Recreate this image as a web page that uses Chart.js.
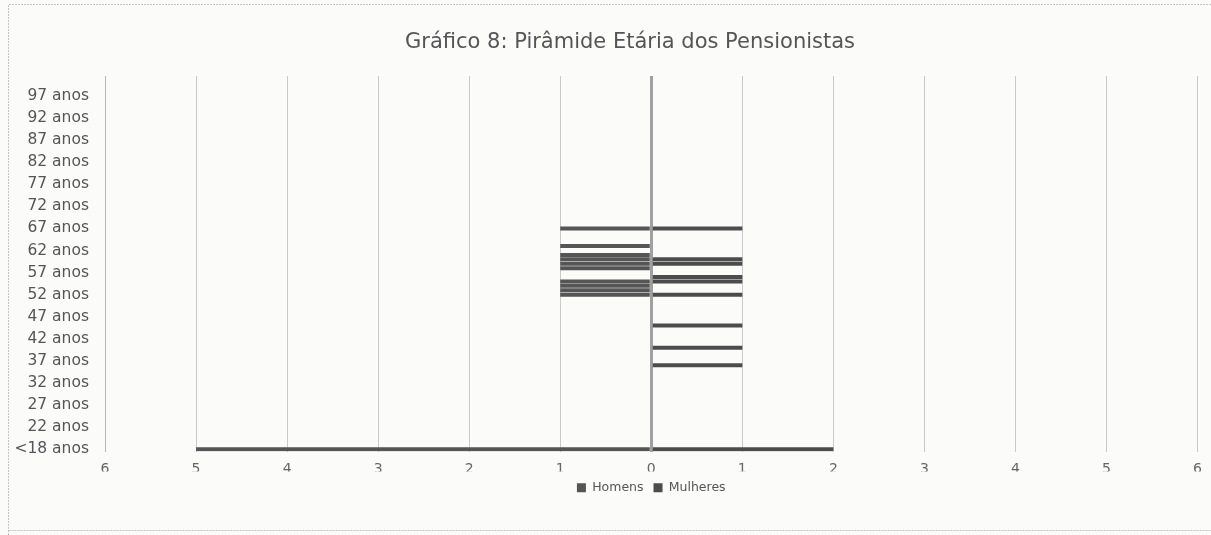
<!DOCTYPE html>
<html>
<head>
<meta charset="utf-8">
<script src="https://cdn.jsdelivr.net/npm/chart.js@4/dist/chart.umd.min.js"></script>
<style>
  html, body { margin: 0; padding: 0; background: #fbfbfa; }
  #wrap { width: 1211px; height: 535px; }
</style>
</head>
<body>
<div id="wrap"><canvas id="piramide" width="1211" height="535"></canvas></div>
<script>
// faixas etarias: <18 e depois idade a idade ate 101
const faixas = ['<18 anos'];
for (let i = 18; i <= 101; i++) faixas.push(i + ' anos');

// pensionistas (quantidade por idade)
const idadesHomens = ['<18 anos', '52 anos', '53 anos', '54 anos', '55 anos', '58 anos', '59 anos', '60 anos', '61 anos', '63 anos', '67 anos'];
const qtdHomens    = [5, 1, 1, 1, 1, 1, 1, 1, 1, 1, 1];

const idadesMulheres = ['<18 anos', '36 anos', '40 anos', '45 anos', '52 anos', '55 anos', '56 anos', '59 anos', '60 anos', '67 anos'];
const qtdMulheres    = [2, 1, 1, 1, 1, 1, 1, 1, 1, 1];

const eixoX = [-6, 6];
const titulo = 'Gráfico 8: Pirâmide Etária dos Pensionistas';

const serie = (idades, qtd, sinal) => faixas.map(f => {
  const k = idades.indexOf(f);
  return k < 0 ? 0 : sinal * qtd[k];
});

const fonte = "'DejaVu Sans', 'Open Sans', sans-serif";

// fundo, moldura do scan e titulo (um pouco deslocado como no original)
const moldura = {
  id: 'moldura',
  beforeDraw(chart) {
    const { ctx, width } = chart;
    ctx.save();
    ctx.fillStyle = '#fbfbfa';
    ctx.fillRect(0, 0, width, chart.height);
    ctx.strokeStyle = '#c4c4c4';
    ctx.lineWidth = 1;
    ctx.setLineDash([2, 1]);
    ctx.beginPath();
    ctx.moveTo(8.5, 535);
    ctx.lineTo(8.5, 4.5);
    ctx.lineTo(width, 4.5);
    ctx.moveTo(8.5, 530.5);
    ctx.lineTo(width, 530.5);
    ctx.stroke();
    ctx.restore();
  },
  afterDraw(chart) {
    const ctx = chart.ctx;
    ctx.save();
    ctx.fillStyle = '#555';
    ctx.font = "21px " + fonte;
    ctx.textAlign = 'center';
    ctx.textBaseline = 'middle';
    ctx.fillText(titulo, 630, 43);
    ctx.restore();
  }
};

new Chart(document.getElementById('piramide'), {
  type: 'bar',
  data: {
    labels: faixas,
    datasets: [
      {
        label: 'Homens',
        data: serie(idadesHomens, qtdHomens, -1),
        backgroundColor: '#555555',
        borderColor: '#8a8a8a',
        borderWidth: 0,
        barPercentage: 1,
        categoryPercentage: 0.9
      },
      {
        label: 'Mulheres',
        data: serie(idadesMulheres, qtdMulheres, 1),
        backgroundColor: '#4c4c4c',
        borderColor: '#8a8a8a',
        borderWidth: 0,
        barPercentage: 1,
        categoryPercentage: 0.9
      }
    ]
  },
  options: {
    indexAxis: 'y',
    responsive: false,
    animation: false,
    layout: { padding: { left: 10, right: 11, top: 76, bottom: 31 } },
    scales: {
      x: {
        type: 'linear',
        min: eixoX[0],
        max: eixoX[1],
        stacked: true,
        afterFit: s => { s.height = 20; },
        ticks: {
          stepSize: 1,
          color: '#666',
          font: { family: fonte, size: 14 },
          padding: 9,
          callback: v => Math.abs(v)
        },
        grid: {
          color: ctx => ctx.tick && ctx.tick.value === 0 ? '#a0a0a0' : '#cacaca',
          lineWidth: ctx => ctx.tick && ctx.tick.value === 0 ? 3 : 1,
          drawTicks: false
        },
        border: { display: false }
      },
      y: {
        type: 'category',
        reverse: true,
        stacked: true,
        afterFit: s => { s.width = 95; },
        ticks: {
          autoSkip: false,
          color: '#555',
          font: { family: fonte, size: 15.5 },
          padding: 16,
          callback: (v, i) => i % 5 === 0 ? faixas[i] : ''
        },
        grid: { display: false, drawTicks: false },
        border: { display: true, color: '#b5b5b5', width: 1 }
      }
    },
    plugins: {
      title: { display: false },
      legend: {
        position: 'bottom',
        fullSize: false,
        labels: {
          color: '#555',
          font: { family: fonte, size: 12.5 },
          boxWidth: 9,
          boxHeight: 9,
          padding: 10
        }
      },
      tooltip: { enabled: false }
    }
  },
  plugins: [moldura]
});
</script>
</body>
</html>
